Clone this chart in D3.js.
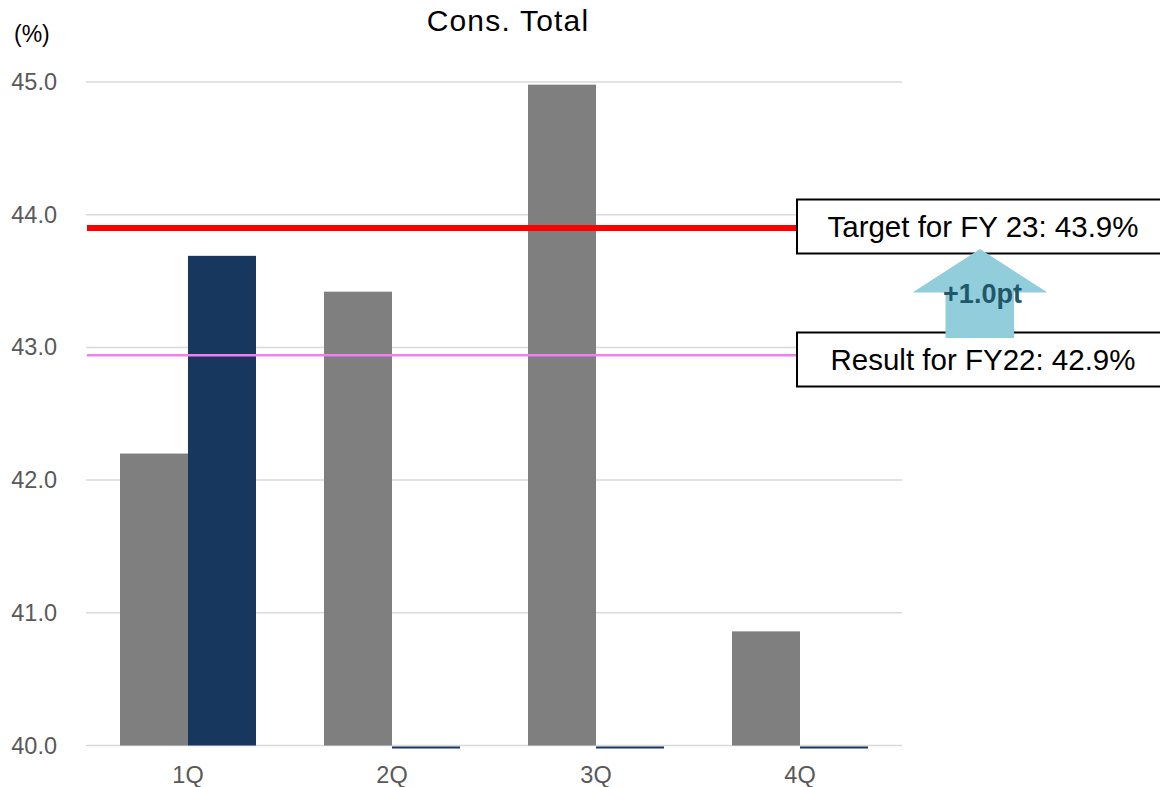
<!DOCTYPE html>
<html>
<head>
<meta charset="utf-8">
<script src="https://cdn.jsdelivr.net/npm/d3@7/dist/d3.min.js"></script>
<style>
  html, body { margin: 0; padding: 0; background: #fff; }
  svg { display: block; font-family: "Liberation Sans", Arial, sans-serif; }
</style>
</head>
<body>
<svg id="chart" width="1160" height="787"></svg>
<script>
// Quarterly ratio, consolidated total (%)
const quarters = ["1Q", "2Q", "3Q", "4Q"];
const seriesNames = ["FY22", "FY23"];
const fy22Values = [42.2, 43.42, 44.98, 40.86];
const fy23Values = [43.69, 0, 0, 0];
const yTicks = [40, 41, 42, 43, 44, 45];
const targetFY23 = 43.9;
const resultFY22 = 42.94;
const chartTitle = "Cons. Total";
const unitLabel = "(%)";

const seriesColors = { FY22: "#7f7f7f", FY23: "#17375e" };

const svg = d3.select("#chart");
const margin = { left: 86, right: 258, top: 82, bottom: 41.5 };
const W = 1160, H = 787;
const plotRight = W - margin.right;
const plotBottom = H - margin.bottom;

const x0 = d3.scaleBand()
  .domain(quarters)
  .range([margin.left, plotRight])
  .paddingInner(1 / 3)
  .paddingOuter(1 / 6);

const x1 = d3.scaleBand()
  .domain(seriesNames)
  .range([0, x0.bandwidth()]);

const y = d3.scaleLinear()
  .domain([40, 45])
  .range([plotBottom, margin.top]);

// Gridlines
svg.append("g")
  .selectAll("line")
  .data(yTicks)
  .join("line")
  .attr("x1", margin.left)
  .attr("x2", plotRight)
  .attr("y1", d => y(d))
  .attr("y2", d => y(d))
  .attr("stroke", "#d9d9d9")
  .attr("stroke-width", 1.5);

// Y axis labels
const yAxis = d3.axisLeft(y)
  .tickValues(yTicks)
  .tickFormat(d3.format(".1f"))
  .tickSize(0)
  .tickPadding(0);
const gy = svg.append("g")
  .attr("transform", `translate(57,0)`)
  .call(yAxis);
gy.select(".domain").remove();
gy.selectAll("text")
  .attr("fill", "#595959")
  .style("font-size", "23.5px")
  .style("font-family", "'Liberation Sans', Arial, sans-serif");

// X axis labels
const xAxis = d3.axisBottom(x0).tickSize(0).tickPadding(0);
const gx = svg.append("g")
  .attr("transform", `translate(0,${plotBottom + 21})`)
  .call(xAxis);
gx.select(".domain").remove();
gx.selectAll("text")
  .attr("fill", "#595959")
  .attr("dy", "0.71em")
  .attr("y", 0)
  .style("font-size", "23.5px")
  .style("font-family", "'Liberation Sans', Arial, sans-serif");

// Bars (values below the axis minimum show as a thin line under the baseline)
const rows = quarters.map((q, i) => ({
  q,
  vals: [
    { s: "FY22", v: fy22Values[i] },
    { s: "FY23", v: fy23Values[i] }
  ]
}));

svg.append("g")
  .selectAll("g")
  .data(rows)
  .join("g")
  .attr("transform", d => `translate(${x0(d.q)},0)`)
  .selectAll("rect")
  .data(d => d.vals)
  .join("rect")
  .attr("x", d => x1(d.s))
  .attr("width", x1.bandwidth())
  .attr("y", d => d.v >= 40 ? y(d.v) : y(40) + 1)
  .attr("height", d => d.v >= 40 ? y(40) - y(d.v) : 2)
  .attr("fill", d => seriesColors[d.s]);

// Reference lines
const boxX = 797;
svg.append("line")
  .attr("x1", margin.left + 1).attr("x2", boxX)
  .attr("y1", y(targetFY23)).attr("y2", y(targetFY23))
  .attr("stroke", "#ff0000").attr("stroke-width", 6);

svg.append("line")
  .attr("x1", margin.left + 1).attr("x2", boxX)
  .attr("y1", y(resultFY22)).attr("y2", y(resultFY22))
  .attr("stroke", "#f27ef2").attr("stroke-width", 2.5);

// Label boxes
const fmt = d3.format(".1f");
const boxes = [
  { text: `Target for FY 23: ${fmt(targetFY23)}%`, cy: 226.5 },
  { text: `Result for FY22: ${fmt(resultFY22)}%`, cy: 359.5 }
];
const boxW = 372, boxH = 54;
const bg = svg.append("g");
boxes.forEach(b => {
  bg.append("rect")
    .attr("x", boxX).attr("y", b.cy - boxH / 2)
    .attr("width", boxW).attr("height", boxH)
    .attr("fill", "#fff").attr("stroke", "#000").attr("stroke-width", 2);
  bg.append("text")
    .attr("x", boxX + boxW / 2)
    .attr("y", b.cy)
    .attr("dy", "0.36em")
    .attr("text-anchor", "middle")
    .attr("fill", "#000")
    .style("font-size", "29.5px")
    .text(b.text);
});

// Up arrow showing the improvement
const arrowCx = 980;
const tipY = y(targetFY23) + 21;
const headY = 292.5;
const baseY = 338;
const arrowPath = d3.path();
arrowPath.moveTo(arrowCx, tipY);
arrowPath.lineTo(arrowCx + 67.5, headY);
arrowPath.lineTo(arrowCx + 34, headY);
arrowPath.lineTo(arrowCx + 34, baseY);
arrowPath.lineTo(arrowCx - 34.5, baseY);
arrowPath.lineTo(arrowCx - 34.5, headY);
arrowPath.lineTo(arrowCx - 67.5, headY);
arrowPath.closePath();
svg.append("path")
  .attr("d", arrowPath.toString())
  .attr("fill", "#92cddc");

svg.append("text")
  .attr("x", arrowCx + 2.5)
  .attr("y", 303)
  .attr("text-anchor", "middle")
  .attr("fill", "#1f5869")
  .style("font-size", "27px")
  .style("font-weight", "bold")
  .text(`+${fmt(targetFY23 - resultFY22)}pt`);

// Title and unit
svg.append("text")
  .attr("x", 508)
  .attr("y", 31)
  .attr("text-anchor", "middle")
  .attr("fill", "#000")
  .style("font-size", "30px")
  .style("letter-spacing", "1.2px")
  .text(chartTitle);

svg.append("text")
  .attr("x", 14)
  .attr("y", 42)
  .attr("fill", "#000")
  .style("font-size", "23px")
  .text(unitLabel);
</script>
</body>
</html>
